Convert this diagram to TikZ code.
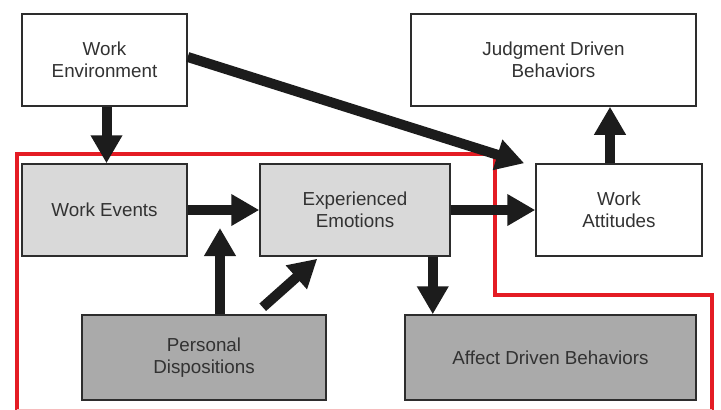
\documentclass[tikz,border=0pt]{standalone}
\usepackage{fontspec}
\setmainfont{Liberation Sans}
\usetikzlibrary{arrows.meta}

\definecolor{boxline}{RGB}{45,45,45}
\definecolor{lightbox}{RGB}{217,217,217}
\definecolor{darkbox}{RGB}{170,170,170}
\definecolor{framered}{RGB}{228,28,36}
\definecolor{txt}{RGB}{50,50,50}

\begin{document}
\begin{tikzpicture}[x=1pt, y=-1pt,
		box/.style={draw=boxline, line width=1.5pt, align=center, text=txt, inner sep=0pt,
			font=\fontsize{18.8}{22.5}\selectfont},
		bigarrow/.style={-{Triangle[length=28pt, width=30pt]}, line width=10pt, draw={rgb,255:red,28;green,28;blue,28}}]
		
		\useasboundingbox (0, 0) rectangle (721, 410);
		
		% work environment
		\node[box, fill=white, minimum width=165pt, minimum height=92pt] (env) at (104.5, 60) {Work\\Environment};
		
		% judgment driven behaviors
		\node[box, fill=white, minimum width=285pt, minimum height=92pt] (judg) at (553.5, 60) {Judgment Driven\\Behaviors};
		
		% work events
		\node[box, fill=lightbox, minimum width=165pt, minimum height=92pt] (events) at (104.5, 210) {Work Events};
		
		% experienced emotions
		\node[box, fill=lightbox, minimum width=190pt, minimum height=92pt] (emo) at (355, 210) {Experienced\\Emotions};
		
		% work attitudes
		\node[box, fill=white, minimum width=166pt, minimum height=92pt] (att) at (619, 210) {Work\\Attitudes};
		
		% personal dispositions
		\node[box, fill=darkbox, minimum width=244pt, minimum height=85pt] (disp) at (204, 357.5) {Personal\\Dispositions};
		
		% affect driven behaviors
		\node[box, fill=darkbox, minimum width=291pt, minimum height=85pt] (aff) at (550.5, 357.5) {Affect Driven Behaviors};
		
		% red frame
		\draw[framered, line width=4pt] (17, 410) -- (17, 154) -- (495, 154) -- (495, 295) -- (712, 295) -- (712, 410);
		\draw[framered!30, line width=1pt] (17, 409) -- (712, 409);
		
		% arrows
		\draw[bigarrow] ([xshift=2pt]env.south) -- ([xshift=2pt]events.north);
		\draw[bigarrow] ([yshift=3pt]env.east) -- ([xshift=-11pt]att.north west);
		\draw[bigarrow] (events.east) -- (emo.west);
		\draw[bigarrow] (emo.east) -- (att.west);
		\coordinate (mod) at (220, 228);
		\draw[bigarrow] (disp.north -| mod) -- (mod);
		\draw[bigarrow] ([xshift=-64pt, yshift=7pt]disp.north east) -- ([xshift=58pt, yshift=-2pt]emo.south west);
		\draw[bigarrow] ([xshift=-18pt]emo.south east) -- ([xshift=-18pt]emo.south east |- aff.north);
		\draw[bigarrow] ([xshift=-9pt]att.north) -- ([xshift=-9pt]att.north |- judg.south);
		
	\end{tikzpicture}
\end{document}
